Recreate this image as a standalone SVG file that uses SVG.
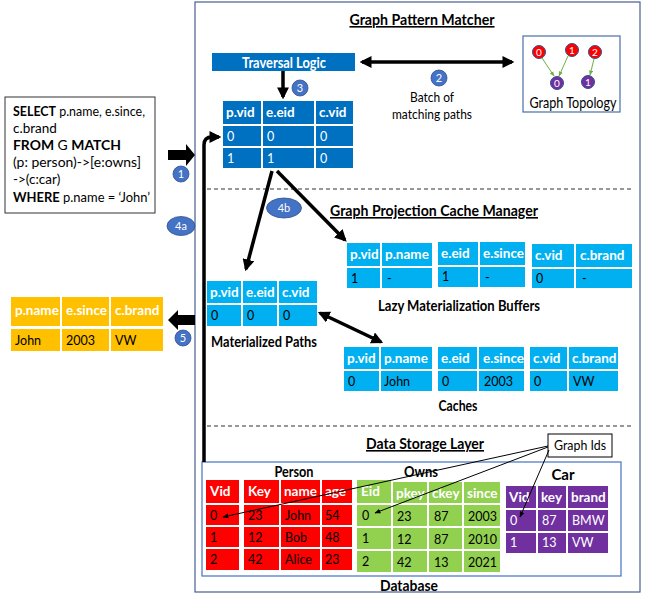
<svg xmlns="http://www.w3.org/2000/svg" width="647" height="597" viewBox="0 0 647 597">
<style>
text{font-family:Lato,"Liberation Sans",sans-serif}
.h{font-weight:bold;fill:#fff;font-size:13.5px}
.d{fill:#000;font-size:12.5px}
.w{fill:#fff;font-size:12.5px}
.ttl{font-weight:bold;font-size:16px;text-decoration:underline;fill:#000}
.lb{font-weight:bold;font-size:15px;fill:#000}
.q{font-size:13.5px;fill:#000}
.dk{fill:#0070C0}
.lt{fill:#00B0F0}
.yl{fill:#FFC000}
.rd{fill:#FF0000}
.gn{fill:#92D050}
.pp{fill:#7030A0}
.num{fill:#4472C4;stroke:#2F528F;stroke-width:0.8}
.nt{fill:#fff;font-size:11px;text-anchor:middle}
.tn{fill:#fff;font-size:10px;text-anchor:middle}
.thick{stroke:#000;fill:none;stroke-width:3.5}
.thin{stroke:#000;fill:none;stroke-width:1}
.gl{stroke:#70AD47;stroke-width:1;fill:none}
</style>
<defs>
<marker id="ah" viewBox="0 0 10 10" refX="8" refY="5" markerWidth="3.4" markerHeight="3.4" orient="auto-start-reverse"><path d="M0,0 L10,5 L0,10 z" fill="#000"/></marker>
<marker id="as" viewBox="0 0 10 10" refX="9" refY="5" markerWidth="6" markerHeight="6" markerUnits="userSpaceOnUse" orient="auto"><path d="M0,1 L10,5 L0,9 z" fill="#000"/></marker>
<marker id="ag" viewBox="0 0 10 10" refX="9" refY="5" markerWidth="5" markerHeight="5" markerUnits="userSpaceOnUse" orient="auto"><path d="M0,1 L10,5 L0,9 z" fill="#70AD47"/></marker>
</defs>
<rect width="647" height="597" fill="#fff"/>

<g id="frame">
<rect x="195" y="2" width="445" height="590" fill="none" stroke="#4A5F8F" stroke-width="1.2"/>
<line x1="207" y1="189" x2="632" y2="189" stroke="#333" stroke-width="1.2" stroke-dasharray="4,3"/>
<line x1="207" y1="426" x2="632" y2="426" stroke="#333" stroke-width="1.2" stroke-dasharray="4,3"/>
<text class="ttl" x="422" y="25" text-anchor="middle" textLength="145" lengthAdjust="spacingAndGlyphs">Graph Pattern Matcher</text>
<text class="ttl" x="434" y="216" text-anchor="middle" textLength="208" lengthAdjust="spacingAndGlyphs">Graph Projection Cache Manager</text>
<text class="ttl" x="425" y="449" text-anchor="middle" textLength="118" lengthAdjust="spacingAndGlyphs">Data Storage Layer</text>
</g>

<g id="query">
<rect x="5" y="97" width="150" height="116" fill="#fff" stroke="#333" stroke-width="1"/>
<text class="q" x="13" y="116" textLength="132" lengthAdjust="spacingAndGlyphs"><tspan font-weight="bold">SELECT</tspan> p.name, e.since,</text>
<text class="q" x="13" y="133">c.brand</text>
<text class="q" x="13" y="150" textLength="108" lengthAdjust="spacingAndGlyphs"><tspan font-weight="bold">FROM</tspan> G <tspan font-weight="bold">MATCH</tspan></text>
<text class="q" x="13" y="167" textLength="128" lengthAdjust="spacingAndGlyphs">(p: person)-&gt;[e:owns]</text>
<text class="q" x="13" y="184">-&gt;(c:car)</text>
<text class="q" x="13" y="202" textLength="137" lengthAdjust="spacingAndGlyphs"><tspan font-weight="bold">WHERE</tspan> p.name = ‘John’</text>
</g>

<g id="traversal">
<rect x="212" y="53" width="143" height="18" class="dk"/>
<text x="284" y="67.5" text-anchor="middle" font-weight="bold" font-size="15" fill="#fff" textLength="84" lengthAdjust="spacingAndGlyphs">Traversal Logic</text>
</g>

<g id="topology">
<rect x="523" y="36" width="97" height="76" fill="#fff" stroke="#4A6FA5" stroke-width="1.2"/>
<circle cx="539" cy="52" r="6.5" class="rd" stroke="#2F528F" stroke-width="1"/>
<circle cx="572" cy="50" r="6.5" class="rd" stroke="#2F528F" stroke-width="1"/>
<circle cx="595" cy="52" r="6.5" class="rd" stroke="#2F528F" stroke-width="1"/>
<circle cx="557" cy="83" r="6.5" class="pp" stroke="#2F528F" stroke-width="1"/>
<circle cx="588" cy="82" r="6.5" class="pp" stroke="#2F528F" stroke-width="1"/>
<text class="tn" x="539" y="55.5">0</text>
<text class="tn" x="572" y="53.5">1</text>
<text class="tn" x="595" y="55.5">2</text>
<text class="tn" x="557" y="86.5">0</text>
<text class="tn" x="588" y="85.5">1</text>
<line class="gl" x1="542" y1="58" x2="554" y2="76" marker-end="url(#ag)"/>
<line class="gl" x1="568" y1="56" x2="559" y2="76" marker-end="url(#ag)"/>
<line class="gl" x1="594" y1="59" x2="590" y2="75" marker-end="url(#ag)"/>
<text x="573" y="108" text-anchor="middle" font-size="15" fill="#000" textLength="87" lengthAdjust="spacingAndGlyphs">Graph Topology</text>
</g>

<g id="batch">
<text x="432" y="102" text-anchor="middle" font-size="13.5" fill="#000" textLength="44" lengthAdjust="spacingAndGlyphs">Batch of</text>
<text x="432" y="119" text-anchor="middle" font-size="13.5" fill="#000" textLength="80" lengthAdjust="spacingAndGlyphs">matching paths</text>
</g>

<g id="paths-table">
<rect x="223" y="101" width="38" height="23" class="dk"/><rect x="263" y="101" width="51" height="23" class="dk"/><rect x="316" y="101" width="37" height="23" class="dk"/>
<rect x="223" y="126" width="38" height="20" class="dk"/><rect x="263" y="126" width="51" height="20" class="dk"/><rect x="316" y="126" width="37" height="20" class="dk"/>
<rect x="223" y="148" width="38" height="20" class="dk"/><rect x="263" y="148" width="51" height="20" class="dk"/><rect x="316" y="148" width="37" height="20" class="dk"/>
<text class="h" x="226" y="117">p.vid</text><text class="h" x="266" y="117">e.eid</text><text class="h" x="319" y="117">c.vid</text>
<text class="w" x="227" y="141">0</text><text class="w" x="267" y="141">0</text><text class="w" x="320" y="141">0</text>
<text class="w" x="227" y="163">1</text><text class="w" x="267" y="163">1</text><text class="w" x="320" y="163">0</text>
</g>

<g id="lazy-buffers">
<rect x="347" y="243" width="33" height="23" class="lt"/><rect x="382" y="243" width="50" height="23" class="lt"/>
<rect x="347" y="268" width="33" height="20" class="lt"/><rect x="382" y="268" width="50" height="20" class="lt"/>
<text class="h" x="350" y="259">p.vid</text><text class="h" x="385" y="259">p.name</text>
<text class="d" x="351" y="283">1</text><text class="d" x="387" y="283">-</text>
<rect x="438" y="242" width="40" height="23" class="lt"/><rect x="480" y="242" width="45" height="23" class="lt"/>
<rect x="438" y="267" width="40" height="20" class="lt"/><rect x="480" y="267" width="45" height="20" class="lt"/>
<text class="h" x="441" y="258">e.eid</text><text class="h" x="483" y="258">e.since</text>
<text class="d" x="442" y="281">1</text><text class="d" x="485" y="282">-</text>
<rect x="532" y="244" width="42" height="23" class="lt"/><rect x="576" y="244" width="56" height="23" class="lt"/>
<rect x="532" y="269" width="42" height="19" class="lt"/><rect x="576" y="269" width="56" height="19" class="lt"/>
<text class="h" x="535" y="260">c.vid</text><text class="h" x="580" y="260">c.brand</text>
<text class="d" x="536" y="283">0</text><text class="d" x="582" y="283">-</text>
<text class="lb" x="459" y="311" text-anchor="middle" textLength="162" lengthAdjust="spacingAndGlyphs">Lazy  Materialization Buffers</text>
</g>

<g id="materialized-paths">
<rect x="207" y="281" width="34" height="22" class="lt"/><rect x="243" y="281" width="34" height="22" class="lt"/><rect x="279" y="281" width="38" height="22" class="lt"/>
<rect x="207" y="305" width="34" height="21" class="lt"/><rect x="243" y="305" width="34" height="21" class="lt"/><rect x="279" y="305" width="38" height="21" class="lt"/>
<text class="h" x="210" y="297">p.vid</text><text class="h" x="246" y="297">e.eid</text><text class="h" x="282" y="297">c.vid</text>
<text class="d" x="211" y="320">0</text><text class="d" x="247" y="320">0</text><text class="d" x="283" y="320">0</text>
<text class="lb" x="264" y="347" text-anchor="middle" textLength="106" lengthAdjust="spacingAndGlyphs">Materialized Paths</text>
</g>

<g id="caches">
<rect x="344" y="347" width="35" height="22" class="lt"/><rect x="381" y="347" width="51" height="22" class="lt"/>
<rect x="344" y="371" width="35" height="20" class="lt"/><rect x="381" y="371" width="51" height="20" class="lt"/>
<text class="h" x="347" y="363">p.vid</text><text class="h" x="384" y="363">p.name</text>
<text class="d" x="348" y="386">0</text><text class="d" x="384" y="386">John</text>
<rect x="438" y="347" width="39" height="22" class="lt"/><rect x="479" y="347" width="45" height="22" class="lt"/>
<rect x="438" y="371" width="39" height="20" class="lt"/><rect x="479" y="371" width="45" height="20" class="lt"/>
<text class="h" x="441" y="363">e.eid</text><text class="h" x="483" y="363">e.since</text>
<text class="d" x="442" y="386">0</text><text class="d" x="484" y="386">2003</text>
<rect x="530" y="347" width="37" height="22" class="lt"/><rect x="569" y="347" width="49" height="22" class="lt"/>
<rect x="530" y="371" width="37" height="20" class="lt"/><rect x="569" y="371" width="49" height="20" class="lt"/>
<text class="h" x="533" y="363">c.vid</text><text class="h" x="572" y="363">c.brand</text>
<text class="d" x="534" y="386">0</text><text class="d" x="573" y="386">VW</text>
<text class="lb" x="458" y="411" text-anchor="middle" textLength="39" lengthAdjust="spacingAndGlyphs">Caches</text>
</g>

<g id="output">
<rect x="11" y="297" width="49" height="29" class="yl"/><rect x="62" y="297" width="47" height="29" class="yl"/><rect x="111" y="297" width="52" height="29" class="yl"/>
<rect x="11" y="329" width="49" height="22" class="yl"/><rect x="62" y="329" width="47" height="22" class="yl"/><rect x="111" y="329" width="52" height="22" class="yl"/>
<text class="h" x="15" y="315">p.name</text><text class="h" x="66" y="315">e.since</text><text class="h" x="115" y="315">c.brand</text>
<text class="d" x="15" y="345">John</text><text class="d" x="66" y="345">2003</text><text class="d" x="115" y="345">VW</text>
</g>

<g id="database">
<rect x="202" y="462" width="419" height="114" fill="none" stroke="#4472C4" stroke-width="1.2"/>
<text class="lb" x="409" y="591" text-anchor="middle" textLength="58" lengthAdjust="spacingAndGlyphs">Database</text>
<text class="lb" x="294" y="477" text-anchor="middle" textLength="39" lengthAdjust="spacingAndGlyphs">Person</text>
<text class="lb" x="421" y="477" text-anchor="middle" textLength="34" lengthAdjust="spacingAndGlyphs">Owns</text>
<text class="lb" x="563" y="480" text-anchor="middle">Car</text>
</g>

<g id="person">
<rect x="206" y="480" width="33" height="23" class="rd"/><rect x="206" y="505" width="33" height="20" class="rd"/><rect x="206" y="527" width="33" height="20" class="rd"/><rect x="206" y="549" width="33" height="21" class="rd"/>
<rect x="244" y="480" width="35" height="23" class="rd"/><rect x="281" y="480" width="39" height="23" class="rd"/><rect x="322" y="480" width="30" height="23" class="rd"/>
<rect x="244" y="505" width="35" height="20" class="rd"/><rect x="281" y="505" width="39" height="20" class="rd"/><rect x="322" y="505" width="30" height="20" class="rd"/>
<rect x="244" y="527" width="35" height="20" class="rd"/><rect x="281" y="527" width="39" height="20" class="rd"/><rect x="322" y="527" width="30" height="20" class="rd"/>
<rect x="244" y="549" width="35" height="21" class="rd"/><rect x="281" y="549" width="39" height="21" class="rd"/><rect x="322" y="549" width="30" height="21" class="rd"/>
<text class="h" x="210" y="496">Vid</text><text class="h" x="248" y="496">Key</text><text class="h" x="284" y="496">name</text><text class="h" x="325" y="496">age</text>
<text class="d" x="210" y="520">0</text><text class="d" x="248" y="520">23</text><text class="d" x="285" y="520">John</text><text class="d" x="325" y="520">54</text>
<text class="d" x="210" y="542">1</text><text class="d" x="248" y="542">12</text><text class="d" x="285" y="542">Bob</text><text class="d" x="325" y="542">48</text>
<text class="d" x="210" y="564">2</text><text class="d" x="248" y="564">42</text><text class="d" x="285" y="564">Alice</text><text class="d" x="325" y="564">23</text>
</g>

<g id="owns">
<rect x="357" y="480" width="34" height="23" class="gn"/><rect x="393" y="482" width="34" height="21" class="gn"/><rect x="429" y="482" width="33" height="21" class="gn"/><rect x="464" y="482" width="36" height="21" class="gn"/>
<rect x="357" y="505" width="34" height="21" class="gn"/><rect x="393" y="505" width="34" height="21" class="gn"/><rect x="429" y="505" width="33" height="21" class="gn"/><rect x="464" y="505" width="36" height="21" class="gn"/>
<rect x="357" y="528" width="34" height="21" class="gn"/><rect x="393" y="528" width="34" height="21" class="gn"/><rect x="429" y="528" width="33" height="21" class="gn"/><rect x="464" y="528" width="36" height="21" class="gn"/>
<rect x="357" y="551" width="34" height="21" class="gn"/><rect x="393" y="551" width="34" height="21" class="gn"/><rect x="429" y="551" width="33" height="21" class="gn"/><rect x="464" y="551" width="36" height="21" class="gn"/>
<text class="h" x="361" y="496">Eid</text><text class="h" x="396" y="498">pkey</text><text class="h" x="432" y="498">ckey</text><text class="h" x="467" y="498">since</text>
<text class="d" x="362" y="520">0</text><text class="d" x="397" y="521">23</text><text class="d" x="434" y="521">87</text><text class="d" x="468" y="521">2003</text>
<text class="d" x="362" y="543">1</text><text class="d" x="397" y="544">12</text><text class="d" x="434" y="544">87</text><text class="d" x="468" y="544">2010</text>
<text class="d" x="362" y="566">2</text><text class="d" x="397" y="567">42</text><text class="d" x="434" y="567">13</text><text class="d" x="468" y="567">2021</text>
</g>

<g id="car">
<rect x="506" y="486" width="30" height="22" class="pp"/><rect x="538" y="486" width="28" height="22" class="pp"/><rect x="568" y="486" width="40" height="22" class="pp"/>
<rect x="506" y="510" width="30" height="21" class="pp"/><rect x="538" y="510" width="28" height="21" class="pp"/><rect x="568" y="510" width="40" height="21" class="pp"/>
<rect x="506" y="533" width="30" height="20" class="pp"/><rect x="538" y="533" width="28" height="20" class="pp"/><rect x="568" y="533" width="40" height="20" class="pp"/>
<text class="h" x="509" y="502">Vid</text><text class="h" x="541" y="502">key</text><text class="h" x="571" y="502">brand</text>
<text class="w" x="510" y="525">0</text><text class="w" x="542" y="525">87</text><text class="w" x="572" y="525">BMW</text>
<text class="w" x="510" y="547">1</text><text class="w" x="542" y="547">13</text><text class="w" x="572" y="547">VW</text>
</g>

<g id="graph-ids">
<rect x="548" y="434" width="64" height="23" fill="#fff" stroke="#000" stroke-width="1"/>
<text x="580" y="450" text-anchor="middle" font-size="13" fill="#000" textLength="52" lengthAdjust="spacingAndGlyphs">Graph Ids</text>
</g>

<g id="connectors">
<path d="M168,150 H186 V144 L195,155 L186,166 V160 H168 z" fill="#000"/>
<path d="M195,315 H178 V310 L168,320 L178,330 V325 H195 z" fill="#000"/>
<path class="thick" d="M204,462 V145 Q204,137 212,137 H219" marker-end="url(#ah)"/>
<line class="thick" x1="283" y1="71" x2="283" y2="97" stroke-width="3" marker-end="url(#ah)"/>
<line class="thick" x1="362" y1="62" x2="512" y2="62" stroke-width="4" marker-start="url(#ah)" marker-end="url(#ah)"/>
<line class="thick" x1="272" y1="171" x2="246" y2="269" marker-end="url(#ah)"/>
<line class="thick" x1="277" y1="171" x2="345" y2="240" marker-end="url(#ah)"/>
<line class="thick" x1="320" y1="313" x2="381" y2="342" marker-start="url(#ah)" marker-end="url(#ah)"/>
<line class="thin" x1="548" y1="446" x2="223" y2="517" marker-end="url(#as)"/>
<line class="thin" x1="548" y1="447" x2="375" y2="513" marker-end="url(#as)"/>
<line class="thin" x1="549" y1="450" x2="520" y2="517" marker-end="url(#as)"/>
</g>

<g id="labels">
<circle cx="181" cy="174" r="8" class="num"/><text class="nt" x="181" y="178">1</text>
<circle cx="439" cy="78" r="8" class="num"/><text class="nt" x="439" y="82">2</text>
<circle cx="300" cy="88" r="8" class="num"/><text class="nt" x="300" y="92">3</text>
<ellipse cx="181" cy="226" rx="14" ry="9.5" class="num"/><text class="nt" x="181" y="230">4a</text>
<ellipse cx="284" cy="208" rx="17.5" ry="10" class="num"/><text class="nt" x="284" y="212">4b</text>
<circle cx="183" cy="338" r="8" class="num"/><text class="nt" x="183" y="342">5</text>
</g>
</svg>
